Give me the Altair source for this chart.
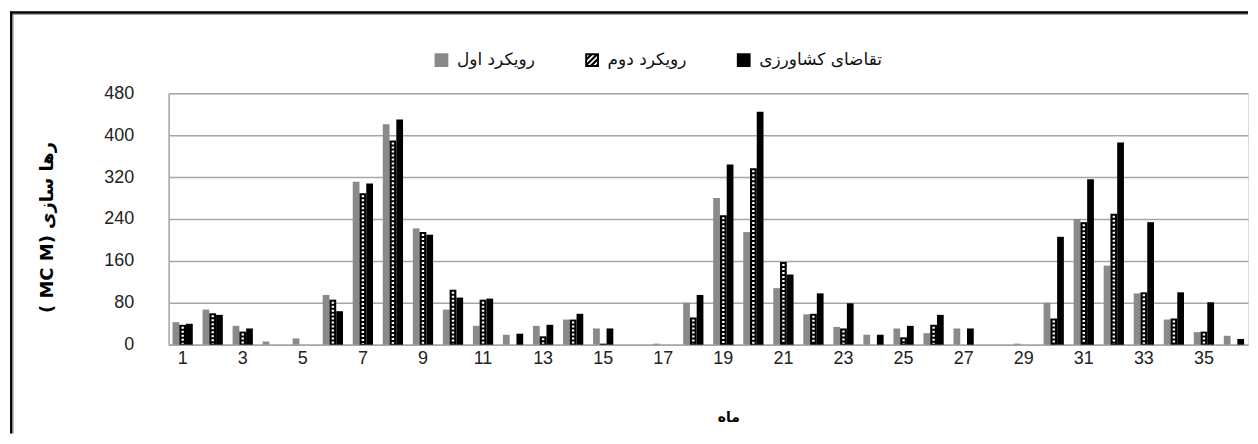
import altair as alt
import pandas as pd

# ---- data ----
months = list(range(1, 37))
names = ["رویکرد اول", "رویکرد دوم", "تقاضای کشاورزی"]
s1 = [43, 67, 36, 6, 12, 95, 311, 421, 222, 67, 36, 19, 36, 48, 31, 0, 2, 80,
      280, 215, 108, 58, 34, 19, 31, 22, 31, 0, 2, 80, 240, 151, 98, 48, 24, 17]
s2 = [38, 60, 25, 0, 0, 86, 289, 390, 215, 105, 86, 0, 16, 48, 2, 0, 0, 52,
      247, 337, 158, 59, 31, 0, 14, 38, 0, 0, 0, 50, 234, 250, 100, 50, 25, 0]
s3 = [40, 57, 31, 0, 0, 64, 308, 430, 210, 90, 88, 21, 38, 59, 31, 0, 0, 95,
      344, 445, 134, 98, 79, 19, 36, 57, 31, 0, 0, 206, 316, 386, 234, 100, 81, 11]
y_ticks = [0, 80, 160, 240, 320, 400, 480]
x_ticks = list(range(1, 37, 2))

rows = []
for name, vals in zip(names, [s1, s2, s3]):
    for m, v in zip(months, vals):
        rows.append({"month": m, "series": name, "value": v})
df = pd.DataFrame(rows)

# ---- hatched legend symbol (black square with white diagonal stripes) ----
def clip(poly, a, b, c):
    out = []
    n = len(poly)
    for i in range(n):
        p, q = poly[i], poly[(i + 1) % n]
        fp = a * p[0] + b * p[1] - c
        fq = a * q[0] + b * q[1] - c
        if fp <= 0:
            out.append(p)
        if (fp < 0 < fq) or (fq < 0 < fp):
            t = fp / (fp - fq)
            out.append((p[0] + t * (q[0] - p[0]), p[1] + t * (q[1] - p[1])))
    return out

inner = [(-0.72, -0.72), (0.72, -0.72), (0.72, 0.72), (-0.72, 0.72)]
path = "M-1,-1L1,-1L1,1L-1,1Z"
for c0 in [-1.5, -0.7, 0.1, 0.9]:
    poly = clip(inner, 1, 1, c0 + 0.35)
    poly = clip(poly, -1, -1, -c0)
    if len(poly) >= 3:
        poly = poly[::-1]
        path += "M" + "L".join(f"{x:.3f},{y:.3f}" for x, y in poly) + "Z"

W, H = 1082, 252
colors = ["#8a8a8a", "#000000", "#000000"]

x_enc = alt.X(
    "month:O",
    scale=alt.Scale(paddingInner=0.325, paddingOuter=0.13),
    axis=alt.Axis(
        values=x_ticks, labelAngle=0, ticks=False, labelPadding=5,
        labelFont="Liberation Sans", labelFontSize=18, labelColor="#222",
        domainColor="#a6a6a6", domainWidth=1.5,
        title="ماه", titleFont="DejaVu Sans", titleFontSize=14,
        titleFontWeight="bold", titleX=561, titleY=73, titleBaseline="middle",
    ),
)
xoff = alt.XOffset("series:N", scale=alt.Scale(domain=names, paddingInner=0), sort=names)
y_enc = alt.Y(
    "value:Q",
    scale=alt.Scale(domain=[0, 480], nice=False),
    axis=alt.Axis(
        values=y_ticks, ticks=False, tickSize=0, labelPadding=35,
        labelFont="Liberation Sans", labelFontSize=18, labelColor="#222",
        domainColor="#a6a6a6", domainWidth=1.5,
        grid=True, gridColor="#a6a6a6", gridWidth=1.5,
        title="( MC M)  رها سازی", titleFont="DejaVu Sans", titleFontSize=18,
        titleFontWeight="bold", titleX=-121, titleY=134, titleAngle=-90,
        titleAlign="center", titleBaseline="middle",
    ),
)

bar_color_expr = (
    f"datum.series == '{names[0]}' ? '{colors[0]}' : "
    f"(datum.series == '{names[1]}' ? '{colors[1]}' : '{colors[2]}')"
)
bars = alt.Chart(df).transform_calculate(barcolor=bar_color_expr).mark_bar().encode(
    x=x_enc, xOffset=xoff, y=y_enc,
    color=alt.Color("barcolor:N", scale=None),
)

hatch = alt.Chart(df).transform_filter(
    alt.datum.series == names[1]
).transform_filter(alt.datum.value > 3).mark_rule(
    color="white", strokeWidth=2.4, strokeDash=[2, 2], yOffset=2, y2Offset=-1
).encode(
    x=alt.X("month:O"), xOffset=xoff,
    y=alt.Y("value:Q"), y2=alt.datum(0),
)

legend_layer = alt.Chart(df).transform_filter("false").mark_point(
    filled=True, opacity=1
).encode(
    color=alt.Color(
        "series:N", scale=alt.Scale(domain=names, range=colors), sort=names,
        legend=alt.Legend(
            orient="none", legendX=265, legendY=-42, direction="horizontal",
            title=None, labelFont="DejaVu Sans", labelFontSize=17,
            labelColor="#111", symbolSize=190, symbolStrokeWidth=0,
            columnPadding=48, labelOffset=7,
        ),
    ),
    shape=alt.Shape("series:N", scale=alt.Scale(domain=names,
                    range=["square", path, "square"]), sort=names),
)

frame_df = pd.DataFrame({"k": [0]})
frame_top = alt.Chart(frame_df).mark_rule(color="black", strokeWidth=2.5).encode(
    x=alt.value(-159), x2=alt.value(1082), y=alt.value(-81)
)
frame_top_g = alt.Chart(frame_df).mark_rule(color="#a0a0a0", strokeWidth=1).encode(
    x=alt.value(-157), x2=alt.value(1082), y=alt.value(-79)
)
frame_left = alt.Chart(frame_df).mark_rule(color="black", strokeWidth=2.5).encode(
    x=alt.value(-157.7), y=alt.value(-82), y2=alt.value(341)
)
frame_left_g = alt.Chart(frame_df).mark_rule(color="#a0a0a0", strokeWidth=1).encode(
    x=alt.value(-155.8), y=alt.value(-79), y2=alt.value(341)
)

chart = alt.layer(
    bars, hatch, legend_layer, frame_top, frame_top_g, frame_left, frame_left_g
).properties(
    width=W, height=H,
    padding={"left": 0, "top": 1, "right": 0, "bottom": 0},
).configure_view(stroke=None).configure(background="white")

chart.save("out.html", embed_options={"renderer": "svg", "actions": False})
